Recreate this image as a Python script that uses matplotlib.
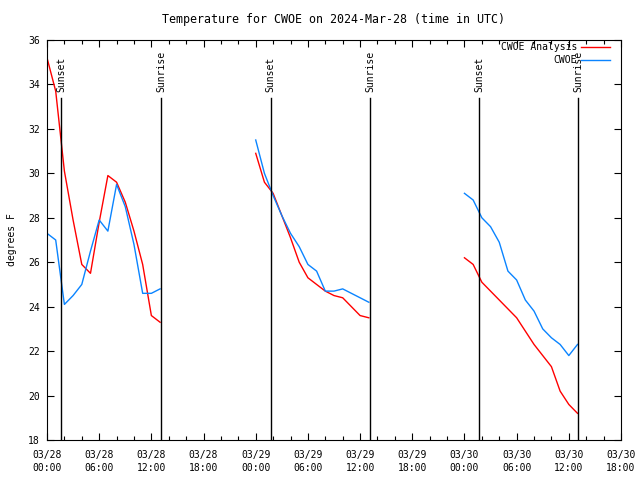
import matplotlib
matplotlib.use('Agg')
import matplotlib.pyplot as plt
import matplotlib.dates as mdates
from matplotlib.ticker import MultipleLocator
import pandas as pd

# hourly temps (degrees F), three runs each 14 hours long
run_starts = ['2024-03-28 00:00', '2024-03-29 00:00', '2024-03-30 00:00']

analysis_1 = [35.2, 33.7, 30.1, 27.9, 25.9, 25.5, 27.8, 29.9, 29.6, 28.7, 27.4, 25.9, 23.6, 23.3]
analysis_2 = [30.9, 29.6, 29.1, 28.1, 27.1, 26.0, 25.3, 25.0, 24.7, 24.5, 24.4, 24.0, 23.6, 23.5]
analysis_3 = [26.2, 25.9, 25.1, 24.7, 24.3, 23.9, 23.5, 22.9, 22.3, 21.8, 21.3, 20.2, 19.6, 19.2]

cwoe_1 = [27.3, 27.0, 24.1, 24.5, 25.0, 26.5, 27.9, 27.4, 29.5, 28.5, 26.8, 24.6, 24.6, 24.8]
cwoe_2 = [31.5, 30.0, 29.0, 28.1, 27.3, 26.7, 25.9, 25.6, 24.7, 24.7, 24.8, 24.6, 24.4, 24.2]
cwoe_3 = [29.1, 28.8, 28.0, 27.6, 26.9, 25.6, 25.2, 24.3, 23.8, 23.0, 22.6, 22.3, 21.8, 22.3]

sunsets = ['2024-03-28 01:40', '2024-03-29 01:44', '2024-03-30 01:42']
sunrises = ['2024-03-28 13:09', '2024-03-29 13:10', '2024-03-30 13:06']

analysis = [analysis_1, analysis_2, analysis_3]
cwoe = [cwoe_1, cwoe_2, cwoe_3]

plt.rcParams['font.family'] = ['DejaVu Sans Mono']
plt.rcParams['font.size'] = 7

fig = plt.figure(figsize=(6.4, 4.8), dpi=100)
ax = fig.add_axes([47/640, 40/480, 574/640, 400/480])

for i, start in enumerate(run_starts):
    t = pd.date_range(start, periods=len(analysis[i]), freq='h')
    ax.plot(t, analysis[i], color='#ff0000', lw=1,
            label='CWOE Analysis' if i == 0 else None)
    ax.plot(t, cwoe[i], color='#0a84ff', lw=1,
            label='CWOE' if i == 0 else None)

# sunset / sunrise markers
for name, times in (('Sunset', sunsets), ('Sunrise', sunrises)):
    for s in times:
        ts = pd.Timestamp(s)
        ax.plot([ts, ts], [18, 33.4], color='black', lw=1)
        ax.text(ts, 33.66, name, rotation=90, ha='center', va='bottom')

ax.set_xlim(pd.Timestamp('2024-03-28 00:00'), pd.Timestamp('2024-03-30 18:00'))
ax.set_ylim(18, 36)
ax.yaxis.set_major_locator(MultipleLocator(2))
ax.xaxis.set_major_locator(mdates.HourLocator(byhour=[0, 6, 12, 18]))
ax.xaxis.set_minor_locator(mdates.HourLocator(byhour=range(0, 24, 2)))
ax.xaxis.set_major_formatter(mdates.DateFormatter('%m/%d\n%H:%M'))
for lab in ax.get_xticklabels():
    lab.set_linespacing(1.45)

ax.tick_params(which='both', direction='in', top=True, right=True, width=0.8)
ax.tick_params(which='major', length=5)
ax.tick_params(which='minor', length=3)
ax.tick_params(axis='x', pad=7)
ax.tick_params(axis='y', pad=5)
for sp in ax.spines.values():
    sp.set_linewidth(0.8)

ax.set_ylabel('degrees F', labelpad=8)
ax.set_title('Temperature for CWOE on 2024-Mar-28 (time in UTC)', pad=12)

ax.legend(loc='upper right', bbox_to_anchor=(0.981, 0.995), frameon=False,
          markerfirst=False, handlelength=3, handletextpad=0.4,
          labelspacing=0.35, borderpad=0, borderaxespad=0)

plt.savefig('out.png', dpi=100)
